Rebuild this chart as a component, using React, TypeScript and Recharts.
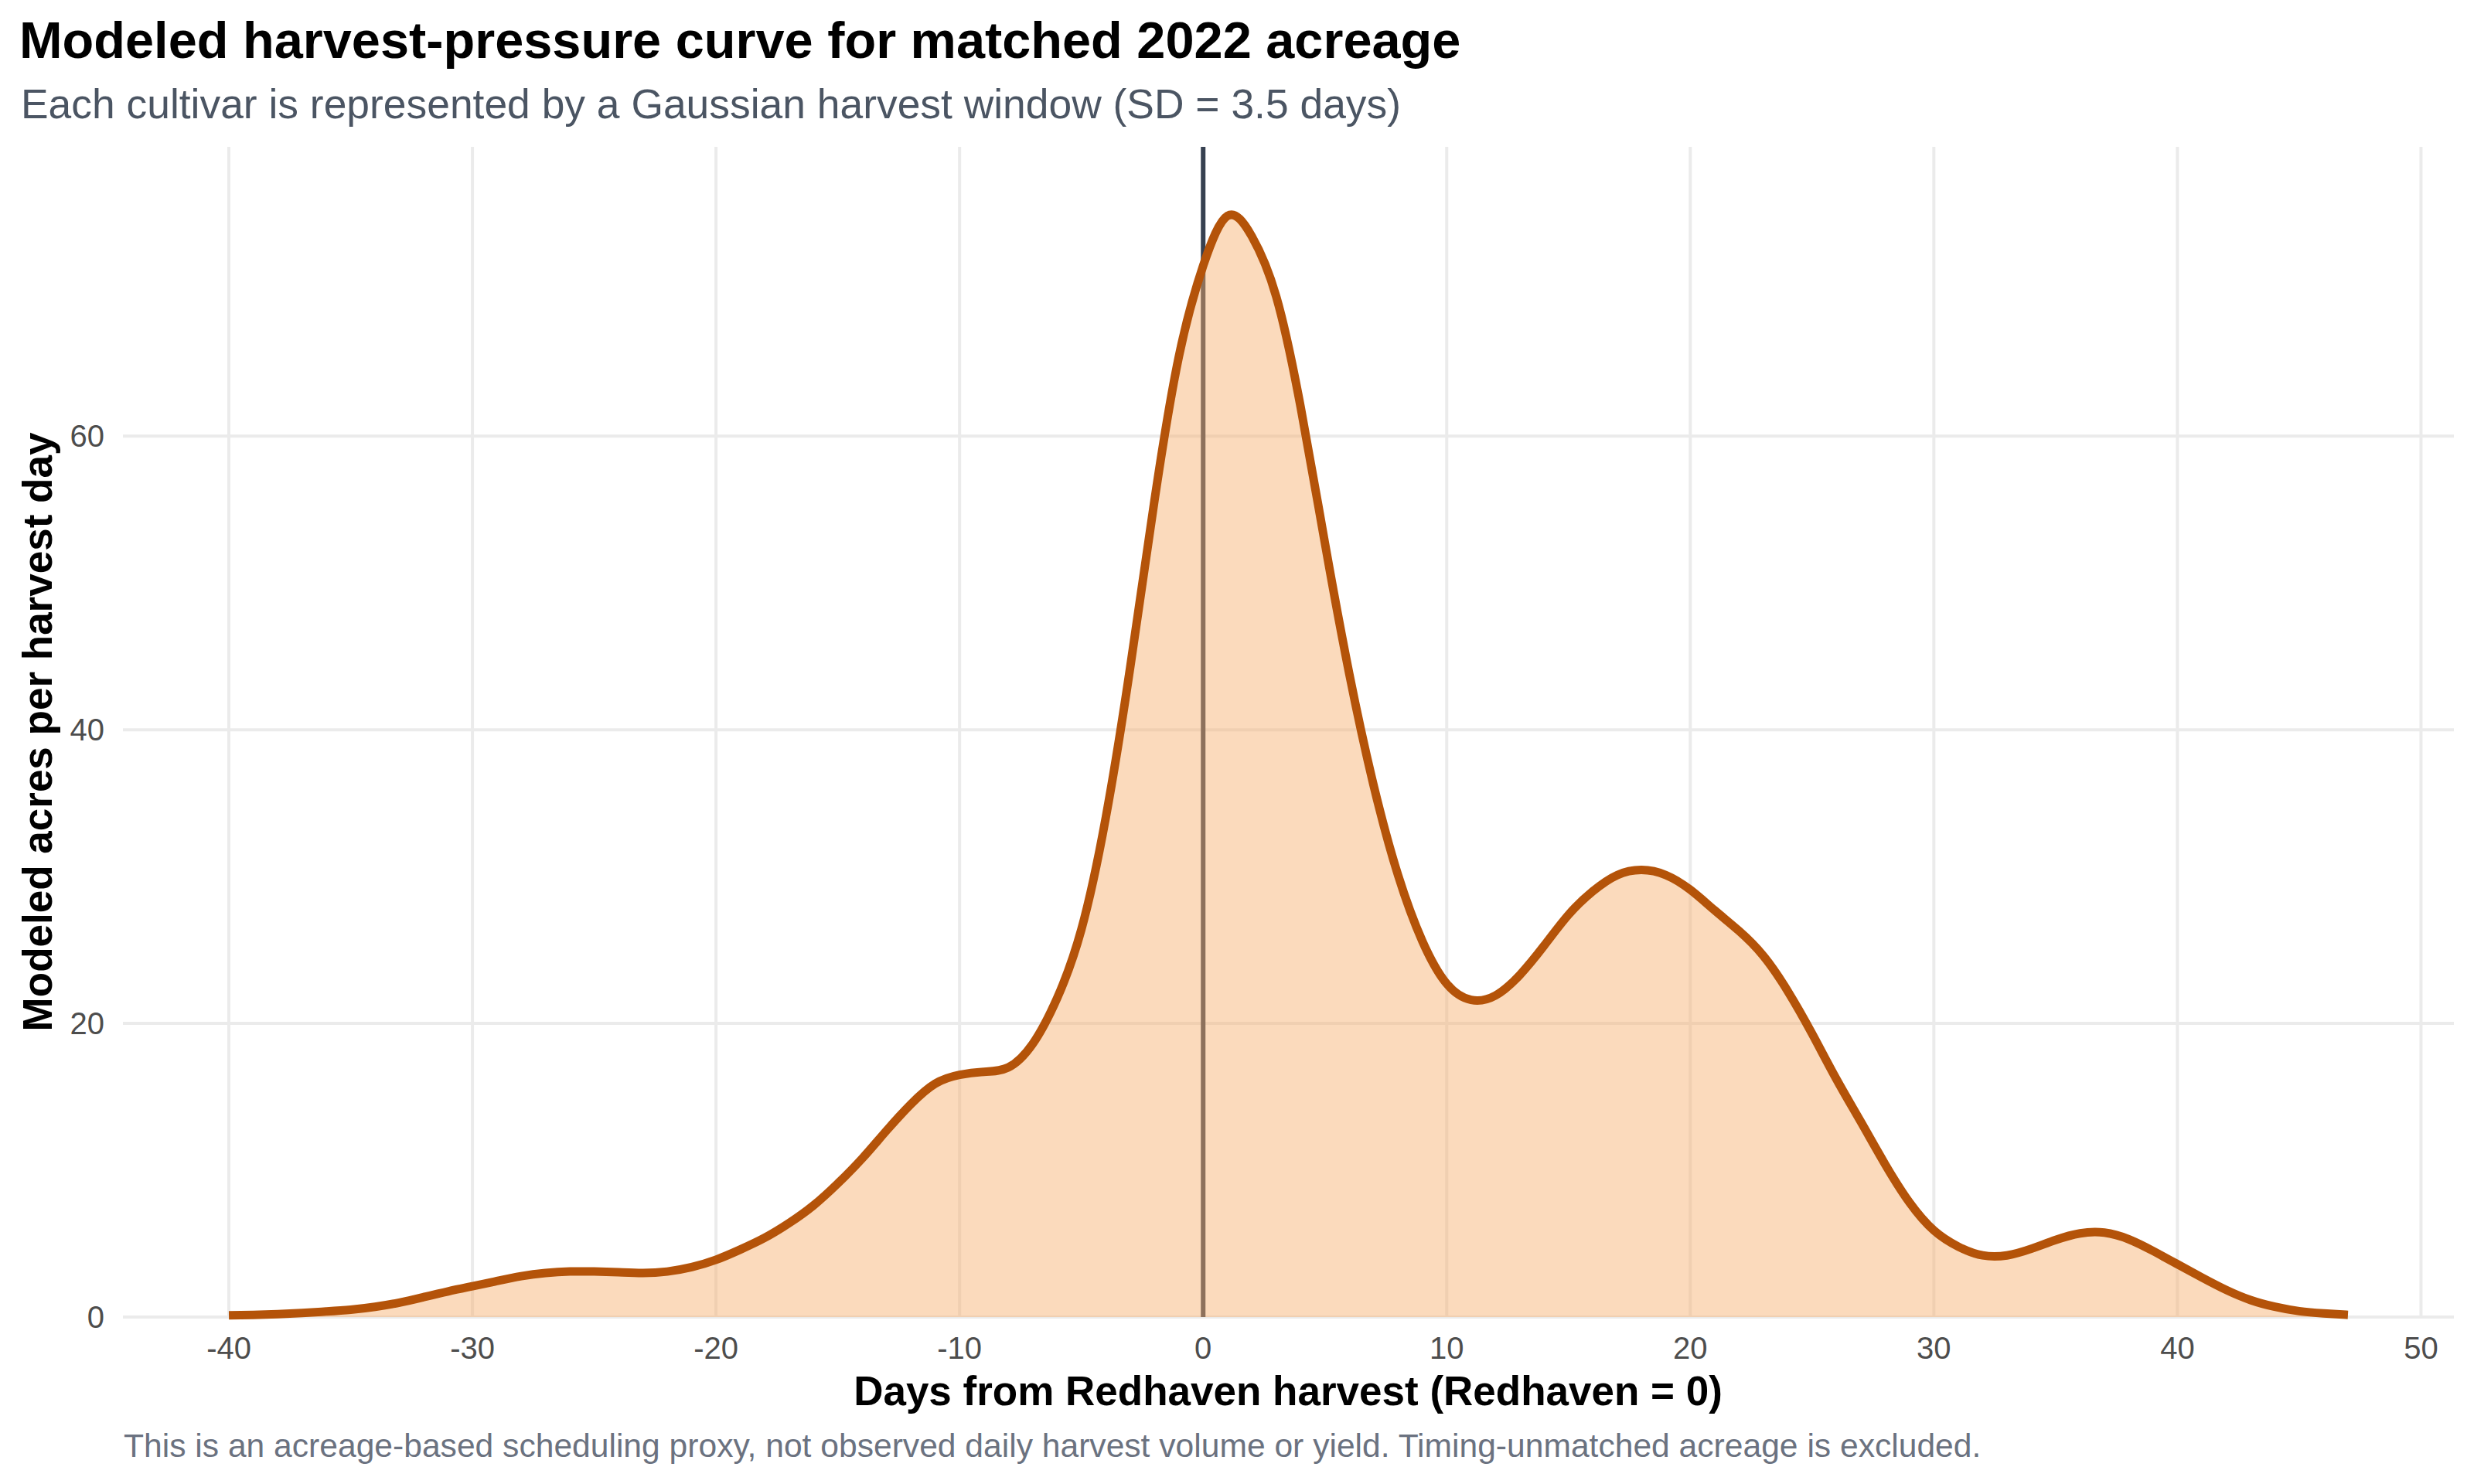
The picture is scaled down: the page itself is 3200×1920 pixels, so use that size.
import React from 'react';
import { ComposedChart, Area, XAxis, YAxis, ReferenceLine } from 'recharts';

// days relative to Redhaven harvest, modeled acres
const days = [
  -40, -39, -38, -37, -36, -35, -34, -33, -32, -31, -30, -29, -28, -27, -26, -25, -24, -23, -22, -21,
  -20, -19, -18, -17, -16, -15, -14, -13, -12, -11, -10, -9, -8, -7, -6, -5, -4, -3, -2, -1,
  0, 1, 2, 3, 4, 5, 6, 7, 8, 9, 10, 11, 12, 13, 14, 15, 16, 17, 18, 19,
  20, 21, 22, 23, 24, 25, 26, 27, 28, 29, 30, 31, 32, 33, 34, 35, 36, 37, 38, 39,
  40, 41, 42, 43, 44, 45, 46, 47,
];
const acres = [
  0.12, 0.15, 0.2, 0.28, 0.38, 0.5, 0.7, 0.98, 1.36, 1.75, 2.1, 2.45, 2.78, 3.0, 3.1, 3.1, 3.05, 3.0, 3.1, 3.4,
  3.9, 4.6, 5.4, 6.4, 7.6, 9.1, 10.8, 12.7, 14.5, 15.9, 16.5, 16.7, 17.0, 18.6, 21.7, 26.4, 34.0, 44.2, 55.6, 65.4,
  71.6, 75.0, 73.6, 69.5, 62.0, 52.7, 43.8, 36.2, 30.1, 25.6, 22.7, 21.6, 21.9, 23.3, 25.3, 27.4, 29.0, 30.1, 30.45, 30.1,
  29.1, 27.7, 26.3, 24.6, 22.2, 19.3, 16.2, 13.3, 10.4, 7.8, 5.9, 4.8, 4.2, 4.2, 4.65, 5.25, 5.7, 5.75, 5.3, 4.5,
  3.6, 2.7, 1.85, 1.16, 0.7, 0.4, 0.25, 0.15,
];
const xTicks = [-40, -30, -20, -10, 0, 10, 20, 30, 40, 50];
const yTicks = [0, 20, 40, 60];

const title = 'Modeled harvest-pressure curve for matched 2022 acreage';
const subtitle = 'Each cultivar is represented by a Gaussian harvest window (SD = 3.5 days)';
const xTitle = 'Days from Redhaven harvest (Redhaven = 0)';
const yTitle = 'Modeled acres per harvest day';
const caption =
  'This is an acreage-based scheduling proxy, not observed daily harvest volume or yield. Timing-unmatched acreage is excluded.';

const FONT = '"Liberation Sans", Arial, Helvetica, sans-serif';
const W = 3200;
const H = 1920;
const GRID = '#ebebeb';

export default function App() {
  const data = days.map((d, i) => ({ day: d, acres: acres[i] }));
  const tick = { fill: '#4d4d4d', fontSize: 40, fontFamily: FONT };

  return (
    <div style={{ position: 'absolute', left: 0, top: 0, width: W, height: H, background: '#fff', fontFamily: FONT }}>
      <ComposedChart width={W} height={H} data={data} margin={{ top: 190, right: 26, bottom: 116, left: 0 }}>
        <XAxis
          dataKey="day"
          type="number"
          domain={[-44.35, 51.35]}
          ticks={xTicks}
          axisLine={false}
          tickLine={false}
          tickSize={0}
          tickMargin={26}
          height={100}
          tick={tick}
        />
        <YAxis
          type="number"
          domain={[0, 79.7]}
          ticks={yTicks}
          axisLine={false}
          tickLine={false}
          tickSize={0}
          tickMargin={24}
          width={159}
          tick={tick}
        />
        {/* major grid, drawn behind the fill */}
        {xTicks.map((t) => (
          <ReferenceLine key={'gx' + t} x={t} stroke={GRID} strokeWidth={4} zIndex={-100} />
        ))}
        {yTicks.map((t) => (
          <ReferenceLine key={'gy' + t} y={t} stroke={GRID} strokeWidth={4} zIndex={-100} />
        ))}
        <ReferenceLine x={0} stroke="#374151" strokeWidth={6} zIndex={-50} />
        <Area
          type="natural"
          dataKey="acres"
          stroke="#b45309"
          strokeWidth={11}
          fill="#f6ad6b"
          fillOpacity={0.45}
          dot={false}
          activeDot={false}
          isAnimationActive={false}
        />
      </ComposedChart>
      <svg width={W} height={H} style={{ position: 'absolute', left: 0, top: 0, pointerEvents: 'none' }}>
        <text x={25} y={75} fontSize={66.7} fontWeight="bold" fill="#000" fontFamily={FONT}>
          {title}
        </text>
        <text x={27} y={153} fontSize={53.4} fill="#4b5563" fontFamily={FONT}>
          {subtitle}
        </text>
        <text x={1666} y={1818} fontSize={53} fontWeight="bold" fill="#000" textAnchor="middle" fontFamily={FONT}>
          {xTitle}
        </text>
        <text
          x={0}
          y={0}
          transform="translate(67 947) rotate(-90)"
          fontSize={53}
          fontWeight="bold"
          fill="#000"
          textAnchor="middle"
          fontFamily={FONT}
        >
          {yTitle}
        </text>
        <text x={160} y={1885} fontSize={42.6} fill="#6b7280" fontFamily={FONT}>
          {caption}
        </text>
      </svg>
    </div>
  );
}
